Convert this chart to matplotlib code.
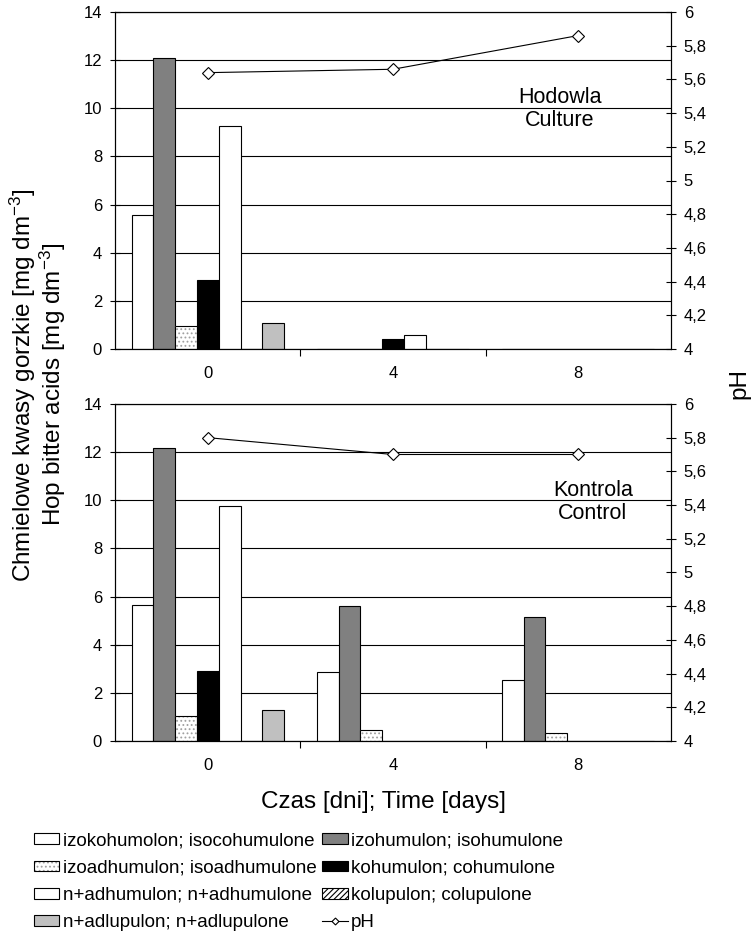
import matplotlib
matplotlib.use("Agg")
import matplotlib.pyplot as plt
from matplotlib.patches import Patch
from matplotlib.lines import Line2D
from matplotlib import font_manager
import numpy as np

plt.rcParams["font.family"] = ["Liberation Sans", "DejaVu Sans"]
plt.rcParams["mathtext.default"] = "regular"
plt.rcParams["hatch.linewidth"] = 0.8

installed = {f.name for f in font_manager.fontManager.ttflist}
legend_family = "Liberation Sans Narrow" if "Liberation Sans Narrow" in installed else "Liberation Sans"

days = ["0", "4", "8"]
names = [
    "izokohumolon; isocohumulone",
    "izohumulon; isohumulone",
    "izoadhumulon; isoadhumulone",
    "kohumulon; cohumulone",
    "n+adhumulon; n+adhumulone",
    "kolupulon; colupulone",
    "n+adlupulon; n+adlupulone",
]

# Hodowla / Culture, one row per compound, values at day 0, 4, 8
culture = [
    [5.55, 0.0, 0.0],
    [12.1, 0.0, 0.0],
    [0.95, 0.0, 0.0],
    [2.85, 0.42, 0.0],
    [9.25, 0.6, 0.0],
    [0.0, 0.0, 0.0],
    [1.1, 0.0, 0.0],
]
culture_ph = [5.64, 5.66, 5.86]

# Kontrola / Control
control = [
    [5.65, 2.85, 2.55],
    [12.15, 5.6, 5.15],
    [1.05, 0.45, 0.35],
    [2.9, 0.0, 0.0],
    [9.75, 0.0, 0.0],
    [0.0, 0.0, 0.0],
    [1.3, 0.0, 0.0],
]
control_ph = [5.8, 5.7, 5.7]

# (facecolor, hatch, hatch colour)
styles = [
    ("white", None, None),
    ("#808080", None, None),
    ("white", "....", "#a0a0a0"),
    ("black", None, None),
    ("white", None, None),
    ("white", "//////", "black"),
    ("#c0c0c0", None, None),
]


def comma(v):
    return f"{v:g}".replace(".", ",")


def draw_panel(ax, values, ph, title, tpos):
    x = np.arange(len(days))
    w = 1 / 8.5
    for i, (vals, (fc, hatch, hc)) in enumerate(zip(values, styles)):
        xs = x + (i - 3) * w
        if hatch:
            ax.bar(xs, vals, w, facecolor=fc, hatch=hatch, edgecolor=hc, linewidth=0)
            ax.bar(xs, vals, w, fill=False, edgecolor="black", linewidth=0.8)
        else:
            ax.bar(xs, vals, w, facecolor=fc, edgecolor="black", linewidth=0.8)
    ax.set_xlim(-0.5, 2.5)
    ax.set_ylim(0, 14)
    ax.set_yticks(range(0, 15, 2))
    ax.yaxis.grid(True, color="black", linewidth=0.8)
    ax.set_axisbelow(True)
    ax.set_xticks(x, days)
    ax.set_xticks([0.5, 1.5], minor=True)
    ax.tick_params(axis="x", which="major", length=0, pad=12, labelsize=12)
    ax.tick_params(axis="x", which="minor", length=5, direction="out", width=0.8)
    ax.tick_params(axis="y", direction="inout", length=7, width=0.8, labelsize=12, pad=6)
    for s in ax.spines.values():
        s.set_linewidth(0.8)

    ax2 = ax.twinx()
    ax2.plot(x, ph, color="black", linewidth=0.8, marker="D", markersize=6,
             markerfacecolor="white", markeredgecolor="black", markeredgewidth=0.8)
    ax2.set_ylim(4, 6)
    ticks = np.round(np.arange(4, 6.01, 0.2), 1)
    ax2.set_yticks(ticks, [comma(t) for t in ticks])
    ax2.tick_params(axis="y", direction="inout", length=7, width=0.8, labelsize=12, pad=6)
    ax2.spines["right"].set_linewidth(0.8)
    ax2.text(tpos[0], tpos[1], title, transform=ax.transAxes,
             ha="center", va="center", fontsize=15.5, linespacing=1.15)


fig = plt.figure(figsize=(7.51, 9.5), dpi=100)
ax_top = fig.add_axes([0.1535, 0.6326, 0.7395, 0.3548])
ax_bot = fig.add_axes([0.1535, 0.2200, 0.7395, 0.3548])

draw_panel(ax_top, culture, culture_ph, "Hodowla\nCulture", (0.80, 0.712))
draw_panel(ax_bot, control, control_ph, "Kontrola\nControl", (0.86, 0.709))

fig.text(0.050, 0.595,
         "Chmielowe kwasy gorzkie [mg dm$^{-3}$]\nHop bitter acids [mg dm$^{-3}$]",
         rotation=90, ha="center", va="center", fontsize=17.5, multialignment="center",
         linespacing=1.0)
fig.text(0.985, 0.596, "pH", rotation=90, ha="center", va="center", fontsize=17.5)
fig.text(0.51, 0.156, "Czas [dni]; Time [days]", ha="center", va="center", fontsize=17.5)

handles = []
for fc, hatch, hc in styles:
    if hatch:
        handles.append((Patch(facecolor=fc, hatch=hatch, edgecolor=hc, linewidth=0),
                        Patch(fill=False, edgecolor="black", linewidth=0.8)))
    else:
        handles.append(Patch(facecolor=fc, edgecolor="black", linewidth=0.8))
ph_handle = Line2D([], [], color="black", linewidth=0.8, marker="D", markersize=3.5,
                   markerfacecolor="white", markeredgecolor="black", markeredgewidth=0.8)
labels = names + ["pH"]
all_handles = handles + [ph_handle]
order = [0, 2, 4, 6, 1, 3, 5, 7]
fig.legend([all_handles[i] for i in order], [labels[i] for i in order],
           loc="upper left", bbox_to_anchor=(0.045, 0.124), ncol=2, frameon=False,
           prop={"family": [legend_family, "DejaVu Sans"], "size": 13.5},
           handlelength=1.35, handleheight=0.5, handletextpad=0.2,
           columnspacing=0.3, labelspacing=0.55, borderaxespad=0, borderpad=0)

fig.savefig("out.png", dpi=100)
